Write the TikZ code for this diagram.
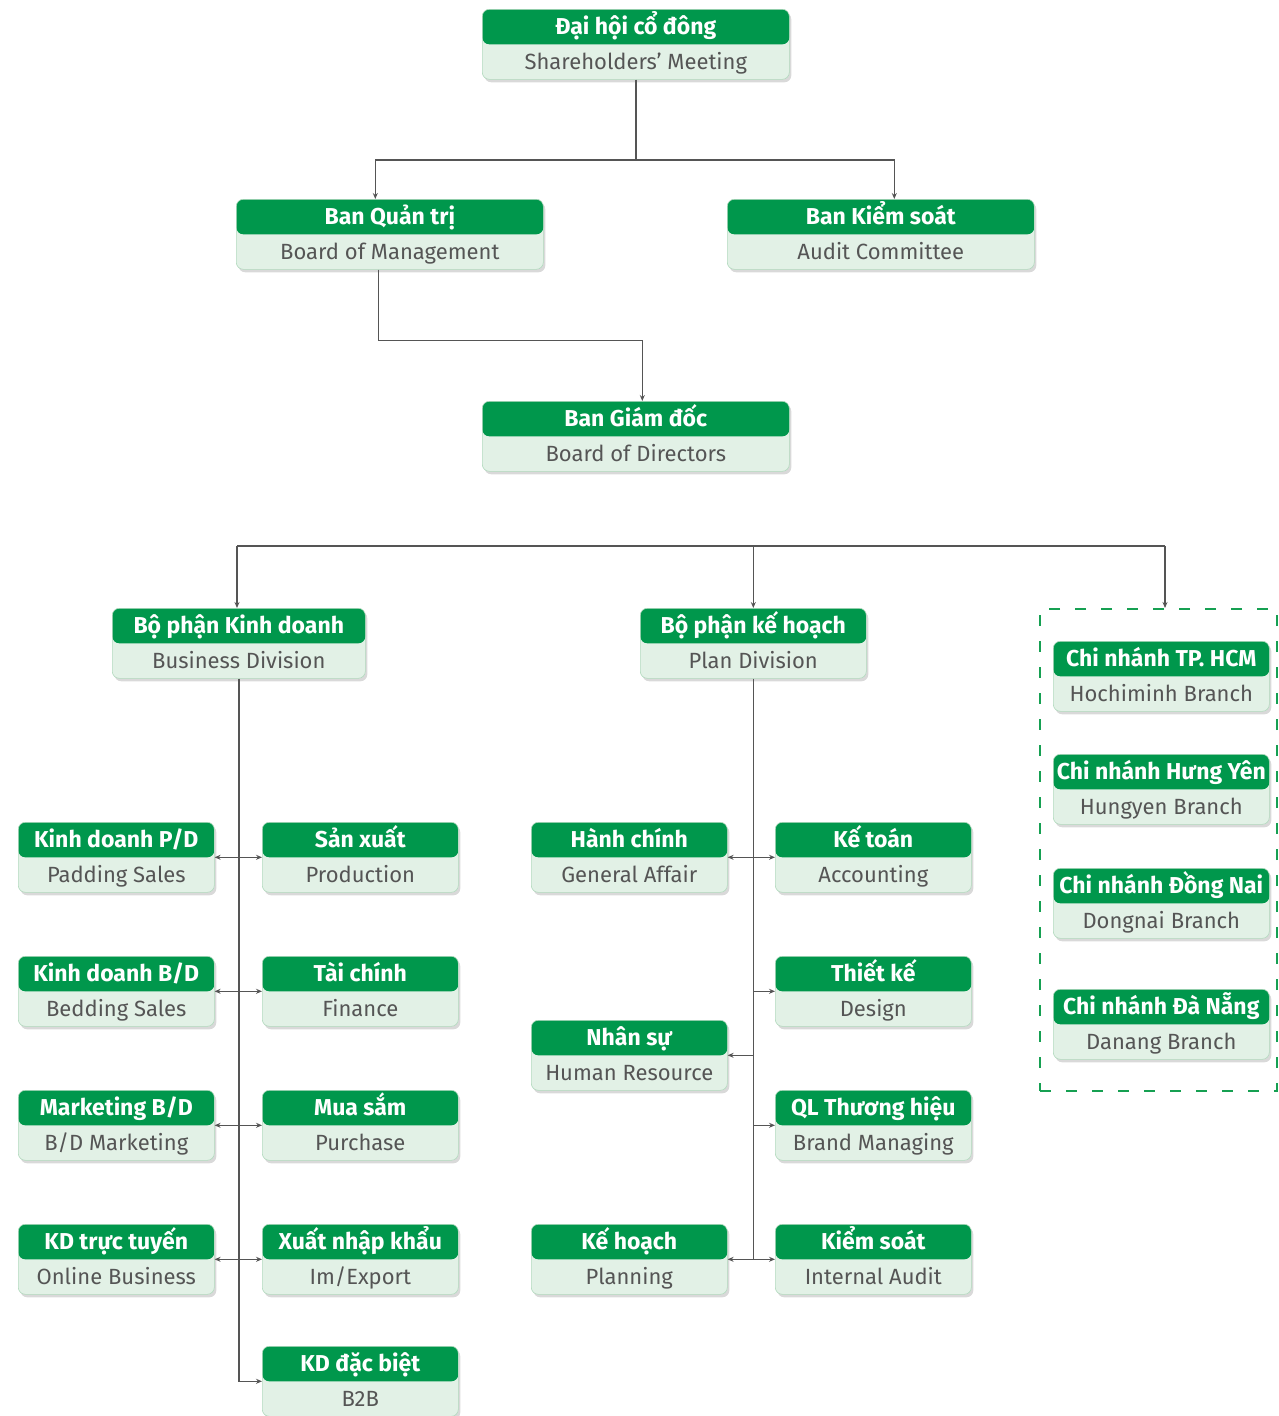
\documentclass[tikz,border=0pt]{standalone}
\usepackage{fontspec}
\setmainfont{Fira Sans}
\usepackage{tikz}
\usepackage{xcolor}
\usetikzlibrary{arrows.meta,shadows,positioning}
\definecolor{hdgreen}{RGB}{0,151,76}
\definecolor{bdlight}{RGB}{226,241,230}
\definecolor{bdline}{RGB}{178,218,190}
\definecolor{txtgray}{RGB}{85,85,85}
\definecolor{linegray}{RGB}{85,85,85}
\definecolor{dashgreen}{RGB}{22,160,82}
\newcommand{\hdbd}[2]{\rule{0pt}{25pt}{\fontsize{23}{35}\selectfont\bfseries\color{white}#1}\\\rule[-10pt]{0pt}{10pt}#2}
\tikzset{
  unit/.style={rectangle, rounded corners=7pt, fill=bdlight, draw=bdline, line width=0.6pt,
    inner sep=0pt, minimum height=70pt, align=center, anchor=north west,
    font=\fontsize{22}{35}\selectfont, text=txtgray,
    drop shadow={opacity=0.3, shadow xshift=2pt, shadow yshift=-3pt},
    path picture={\fill[hdgreen] (path picture bounding box.north west) rectangle ([yshift=-35pt]path picture bounding box.north east);}},
  big/.style={unit, minimum width=307pt},
  small/.style={unit, minimum width=196pt},
  branch/.style={unit, minimum width=216pt},
  dashbox/.style={draw=dashgreen, line width=2pt, dash pattern=on 11pt off 15pt, anchor=north west},
  link/.style={draw=linegray, line width=1.4pt},
  tip/.style={-{Stealth[length=6pt,width=5pt]}},
  tips/.style={{Stealth[length=6pt,width=5pt]}-{Stealth[length=6pt,width=5pt]}}
}
\begin{document}
\begin{tikzpicture}[x=1pt,y=-1pt]
\useasboundingbox (0,0) rectangle (1278,1416);
\node[big] (shm) at (482,9) {\hdbd{Đại hội cổ đông}{Shareholders’ Meeting}};
\node[big] (bqt) at (236,199) {\hdbd{Ban Quản trị}{Board of Management}};
\node[big] (bks) at (727,199) {\hdbd{Ban Kiểm soát}{Audit Committee}};
\node[big] (bgd) at (482,401) {\hdbd{Ban Giám đốc}{Board of Directors}};
\node[unit, minimum width=253pt] (bkd) at (112,608) {\hdbd{Bộ phận Kinh doanh}{Business Division}};
\node[unit, minimum width=226pt] (bkh) at (640,608) {\hdbd{Bộ phận kế hoạch}{Plan Division}};
\node[small] (kpd) at (18,822) {\hdbd{Kinh doanh P/D}{Padding Sales}};
\node[small] (sx) at (262,822) {\hdbd{Sản xuất}{Production}};
\node[small] (kbd) at (18,956) {\hdbd{Kinh doanh B/D}{Bedding Sales}};
\node[small] (tc) at (262,956) {\hdbd{Tài chính}{Finance}};
\node[small] (mkt) at (18,1090) {\hdbd{Marketing B/D}{B/D Marketing}};
\node[small] (ms) at (262,1090) {\hdbd{Mua sắm}{Purchase}};
\node[small] (kdtt) at (18,1224) {\hdbd{KD trực tuyến}{Online Business}};
\node[small] (xnk) at (262,1224) {\hdbd{Xuất nhập khẩu}{Im/Export}};
\node[small] (kddb) at (262,1346) {\hdbd{KD đặc biệt}{B2B}};
\node[small] (hc) at (531,822) {\hdbd{Hành chính}{General Affair}};
\node[small] (kt) at (775,822) {\hdbd{Kế toán}{Accounting}};
\node[small] (tk) at (775,956) {\hdbd{Thiết kế}{Design}};
\node[small] (ns) at (531,1020) {\hdbd{Nhân sự}{Human Resource}};
\node[small] (ql) at (775,1090) {\hdbd{QL Thương hiệu}{Brand Managing}};
\node[small] (kh) at (531,1224) {\hdbd{Kế hoạch}{Planning}};
\node[small] (ks) at (775,1224) {\hdbd{Kiểm soát}{Internal Audit}};
\node[dashbox, minimum width=237pt, minimum height=482pt] (brz) at (1039,608) {};
\node[branch] (hcm) at (1053,641) {\hdbd{Chi nhánh TP. HCM}{Hochiminh Branch}};
\node[branch] (hy) at (1053,754) {\hdbd{Chi nhánh Hưng Yên}{Hungyen Branch}};
\node[branch] (dn) at (1053,868) {\hdbd{Chi nhánh Đồng Nai}{Dongnai Branch}};
\node[branch] (dng) at (1053,989) {\hdbd{Chi nhánh Đà Nẵng}{Danang Branch}};
\coordinate (j1) at (636,160);
\draw[link] (shm.south) -- (shm.south |- j1);
\draw[link,tip] (j1) -| ([xshift=-14.5pt]bqt.north);
\draw[link,tip] (j1) -| ([xshift=13.5pt]bks.north);
\draw[link,tip] ([xshift=-11.5pt]bqt.south) -- ++(0,71) -| ([xshift=6.5pt]bgd.north);
\coordinate (j3) at (237,546);
\coordinate (j4) at (1165,546);
\draw[link] (j3) -- (j4);
\draw[link,tip] (j3) -- (j3 |- bkd.north);
\draw[link,tip] (bkh.north |- j3) -- (bkh.north);
\draw[link,tip] (j4) -- (j4 |- brz.north);
\draw[link,tip] (bkd.south) |- (kddb.west);
\draw[link,tips] (kpd.east) -- (sx.west);
\draw[link,tips] (kbd.east) -- (tc.west);
\draw[link,tips] (mkt.east) -- (ms.west);
\draw[link,tips] (kdtt.east) -- (xnk.west);
\draw[link] (bkh.south) -- (bkh.south |- kh.east);
\draw[link,tips] (hc.east) -- (kt.west);
\draw[link,tip] (bkh.south |- tk.west) -- (tk.west);
\draw[link,tip] (bkh.south |- ns.east) -- (ns.east);
\draw[link,tip] (bkh.south |- ql.west) -- (ql.west);
\draw[link,tips] (kh.east) -- (ks.west);
\end{tikzpicture}
\end{document}
